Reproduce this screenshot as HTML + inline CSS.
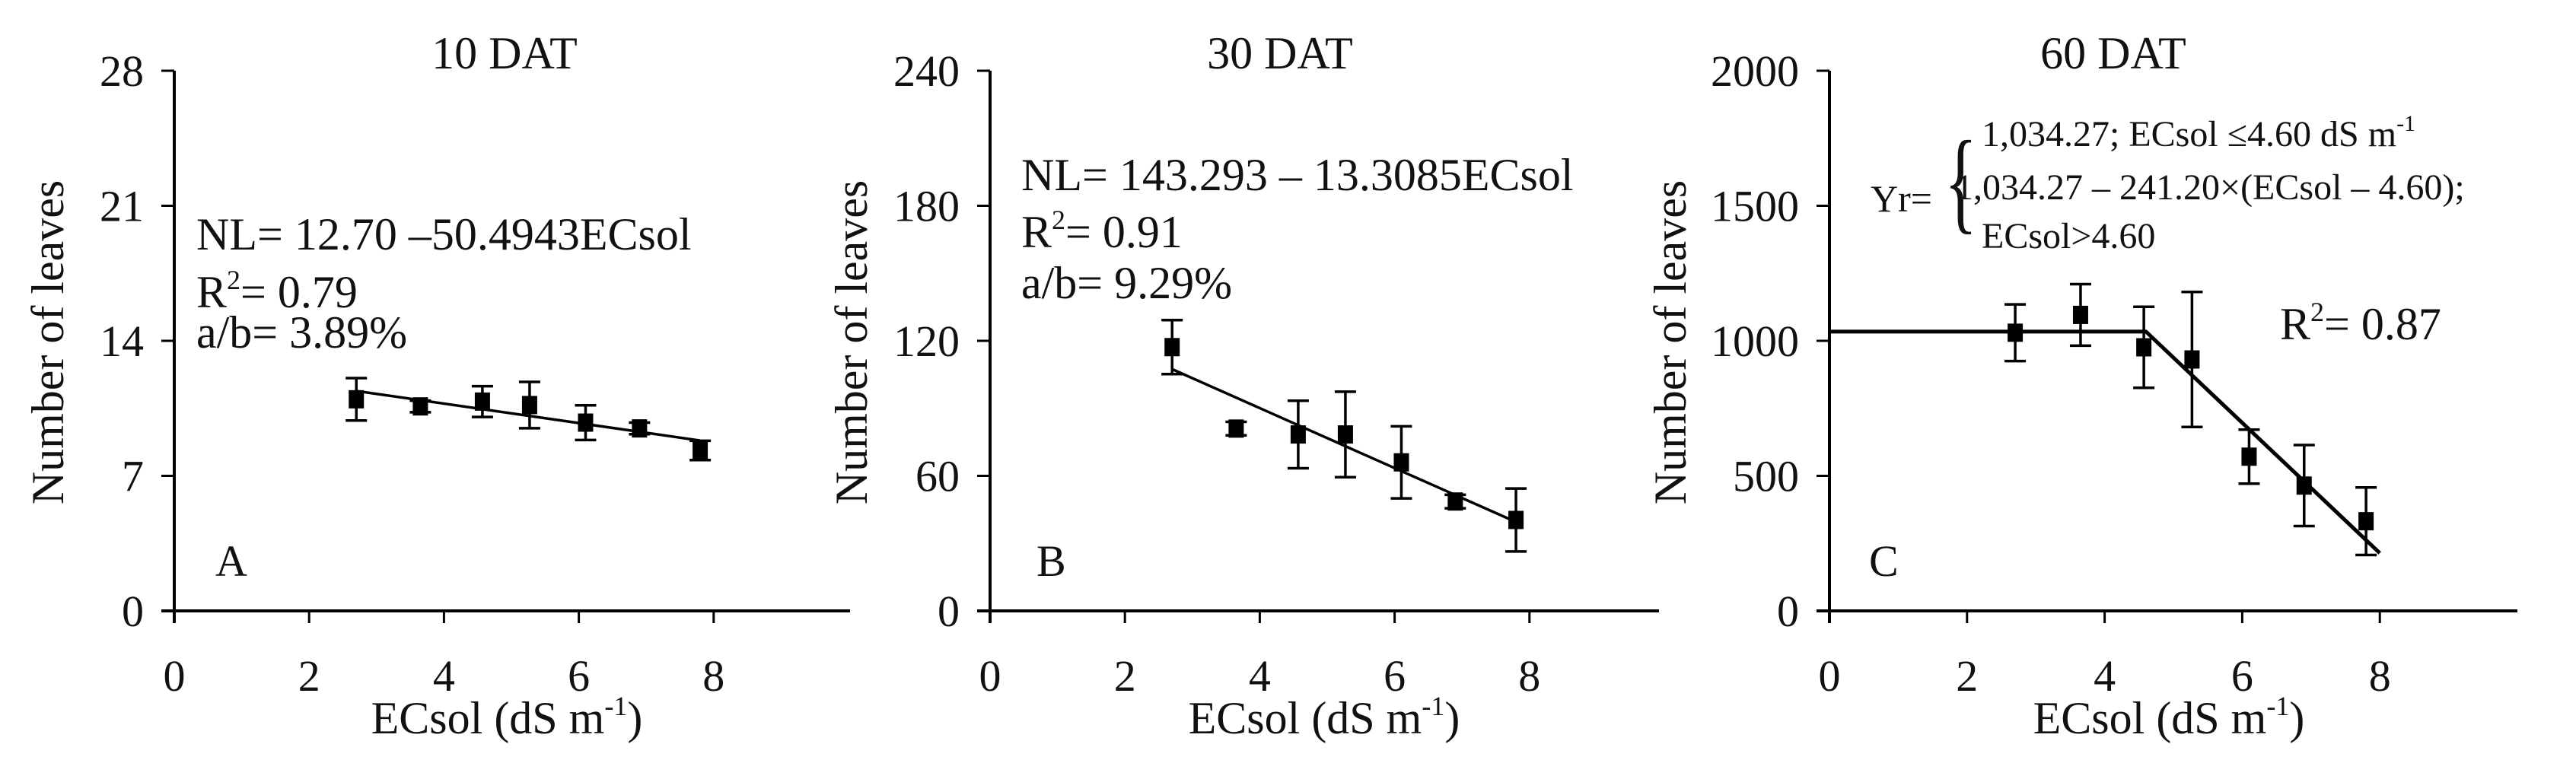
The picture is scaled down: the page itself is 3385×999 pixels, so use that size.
<!DOCTYPE html>
<html><head><meta charset="utf-8"><style>
html,body{margin:0;padding:0;background:#fff}
svg{display:block}
text{font-family:"Liberation Serif",serif;fill:#111}
</style></head><body>
<svg id="fig" width="3385" height="999" viewBox="0 0 3385 999" xmlns="http://www.w3.org/2000/svg">
<rect width="3385" height="999" fill="#fff"/>
</svg>
<script>
// ---- data ----
const ecsol = [2.7, 3.65, 4.57, 5.27, 6.1, 6.9, 7.8];
const xTicks = [0, 2, 4, 6, 8];
// Panel A (10 DAT)
const leavesA = [10.97, 10.6, 10.85, 10.67, 9.76, 9.46, 8.32];
const errA = [1.1, 0.3, 0.8, 1.2, 0.9, 0.3, 0.5];
const yTicksA = [0, 7, 14, 21, 28];
const fitXA = [2.7, 7.8];
const fitYA = [11.4, 8.83];
// Panel B (30 DAT)
const leavesB = [117.2, 81, 78.4, 78.4, 66, 48.6, 40.4];
const errB = [12, 3, 15, 19, 16, 3, 14];
const yTicksB = [0, 60, 120, 180, 240];
const fitXB = [2.7, 7.8];
const fitYB = [107.4, 39.5];
// Panel C (60 DAT)
const leavesC = [1030, 1096, 976, 931, 571, 464, 332];
const errC = [105, 114, 150, 250, 100, 150, 125];
const yTicksC = [0, 500, 1000, 1500, 2000];
const fitXC = [0, 4.6, 8];
const fitYC = [1034.27, 1034.27, 214];

const NS = "http://www.w3.org/2000/svg";
const svg = document.getElementById('fig');
function el(tag, attrs, parent){
  const e = document.createElementNS(NS, tag);
  for (const k in attrs) e.setAttribute(k, attrs[k]);
  (parent || svg).appendChild(e);
  return e;
}

function panel(p){
  const g = el('g', {});
  
  
  const X0 = p.x0, XU = p.xu, Y0 = 803, YT = 93;
  const ymax = p.yTicks[p.yTicks.length-1];
  const sx = v => X0 + v*XU;
  const sy = v => Y0 - v/ymax*(Y0-YT);
  const ya = el('line', {x1:X0, y1:YT, x2:X0, y2:Y0+16, stroke:'#000','stroke-width':4}, g);
  
  
  const xa = el('line', {x1:X0-17, y1:Y0, x2:p.xEnd, y2:Y0, stroke:'#000','stroke-width':4}, g);
  
  
  p.yTicks.forEach(t => {
    el('line', {x1:X0-17, y1:sy(t), x2:X0, y2:sy(t), stroke:'#000','stroke-width':3}, g);
    const tx = el('text', {x:X0-40, y:sy(t)+20, 'font-size':58, 'text-anchor':'end'}, g);
    tx.textContent = t;
    
    
  });
  xTicks.forEach(t => {
    el('line', {x1:sx(t), y1:Y0, x2:sx(t), y2:Y0+16, stroke:'#000','stroke-width':3}, g);
    const tx = el('text', {x:sx(t), y:908, 'font-size':58, 'text-anchor':'middle'}, g);
    tx.textContent = t;
    
    
  });
  const tt = el('text', {x:p.titleX, y:90, 'font-size':60, 'text-anchor':'middle'}, g);
  tt.textContent = p.title;
  
  
  const xl = el('text', {x:p.xLabelX, y:964, 'font-size':60, 'text-anchor':'middle'}, g);
  xl.innerHTML = 'ECsol (dS m<tspan dy="-24" font-size="36">-1</tspan><tspan dy="24">)</tspan>';
  
  
  const yl = el('text', {x:0, y:0, 'font-size':60, 'text-anchor':'middle', transform:`translate(${p.yLabelX+20},450) rotate(-90)`}, g);
  yl.textContent = 'Number of leaves';
  
  
  const lt = el('text', {x:p.letterX, y:757, 'font-size':58}, g);
  lt.textContent = p.letter;
  
  
  const pts = p.fitX.map((v,i) => sx(v)+','+sy(p.fitY[i])).join(' ');
  const fl = el('polyline', {points:pts, fill:'none', stroke:'#000','stroke-width':p.fitW}, g);
  
  
  ecsol.forEach((v,i) => {
    const cx = sx(v), cy = sy(p.y[i]);
    const top = sy(p.y[i]+p.err[i]), bot = sy(p.y[i]-p.err[i]);
    const eb = el('path', {d:`M${cx},${top}V${bot}M${cx-14},${top}H${cx+14}M${cx-14},${bot}H${cx+14}`, stroke:'#000','stroke-width':3.5, fill:'none'}, g);
    
    
    const m = el('rect', {x:cx-10, y:cy-12, width:20, height:24, fill:'#000'}, g);
    
    
  });
  return g;
}

panel({name:'panel-a-10dat', x0:229, xu:88.6, xEnd:1117, yTicks:yTicksA, y:leavesA, err:errA, fitX:fitXA, fitY:fitYA, fitW:3.5,
  title:'10 DAT', titleX:663, xLabelX:666, yLabelX:63, letter:'A', letterX:283});
panel({name:'panel-b-30dat', x0:1301, xu:88.6, xEnd:2180, yTicks:yTicksB, y:leavesB, err:errB, fitX:fitXB, fitY:fitYB, fitW:3.5,
  title:'30 DAT', titleX:1682, xLabelX:1740, yLabelX:1119, letter:'B', letterX:1362});
panel({name:'panel-c-60dat', x0:2404, xu:90.4, xEnd:3308, yTicks:yTicksC, y:leavesC, err:errC, fitX:fitXC, fitY:fitYC, fitW:5,
  title:'60 DAT', titleX:2777, xLabelX:2850, yLabelX:2195, letter:'C', letterX:2456});

function txt(x,y,size,html,name){
  const t = el('text',{x:x,y:y,'font-size':size});
  t.innerHTML = html;
  
  
  return t;
}
txt(258,328,60,'NL= 12.70 –50.4943ECsol','equation-a');
txt(258,404,60,'R<tspan dy="-24" font-size="36">2</tspan><tspan dy="24">= 0.79</tspan>','r2-a');
txt(258,457,60,'a/b= 3.89%','ab-a');
txt(1342,250,60,'NL= 143.293 – 13.3085ECsol','equation-b');
txt(1342,325,60,'R<tspan dy="-24" font-size="36">2</tspan><tspan dy="24">= 0.91</tspan>','r2-b');
txt(1342,392,60,'a/b= 9.29%','ab-b');
txt(2458,278,50,'Yr=','equation-c-lhs');
const br = el('text',{x:2551,y:288,'font-size':150,'font-weight':'100',transform:'scale(0.6,1)',
  'transform-origin':'2561 288'});
br.textContent='{';


txt(2604,192,48,'1,034.27; ECsol ≤4.60 dS m<tspan dy="-20" font-size="30">-1</tspan>','equation-c-line1');
txt(2569,262,48,'1,034.27 – 241.20×(ECsol  – 4.60);','equation-c-line2');
txt(2604,326,48,'ECsol&gt;4.60','equation-c-line3');
txt(2996,446,60,'R<tspan dy="-24" font-size="36">2</tspan><tspan dy="24">= 0.87</tspan>','r2-c');
</script>
</body></html>
